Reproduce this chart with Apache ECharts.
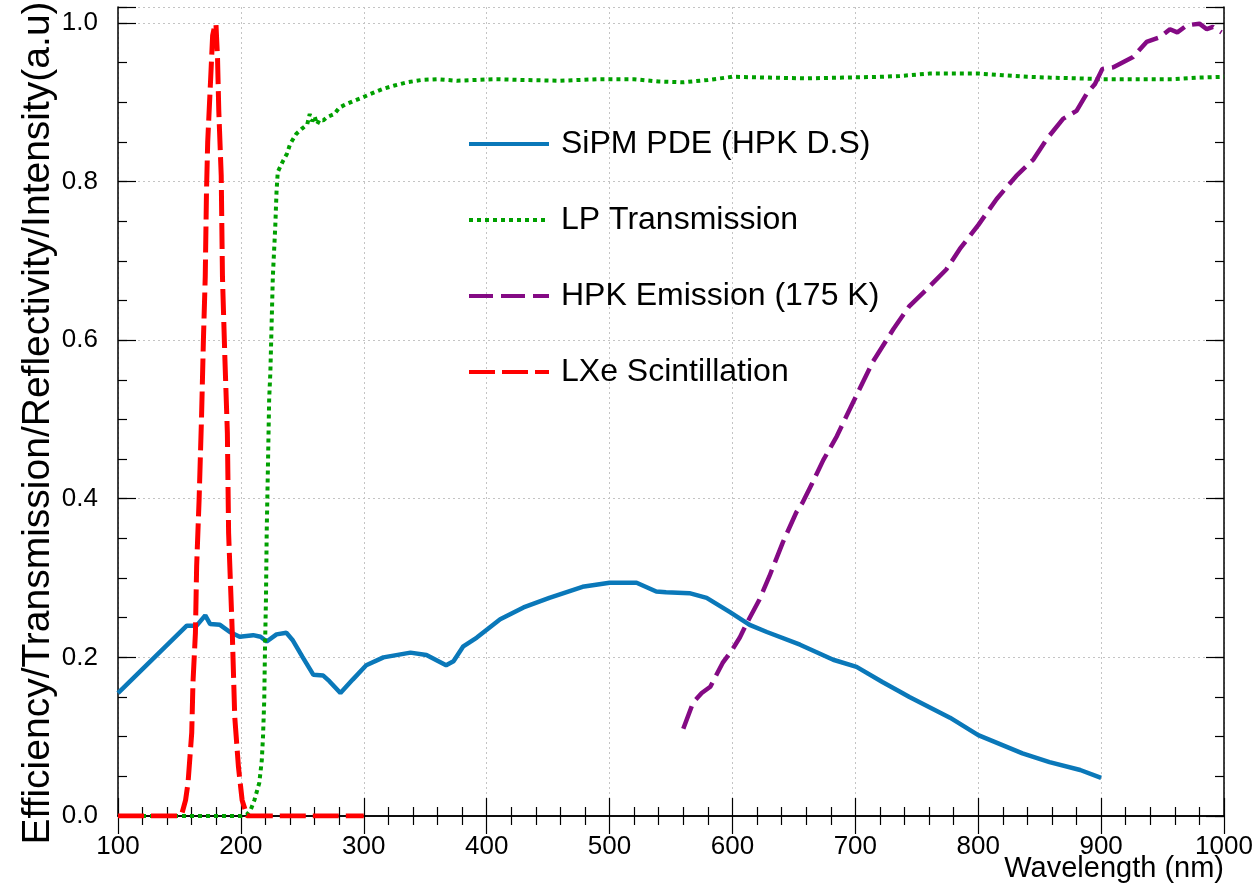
<!DOCTYPE html>
<html>
<head>
<meta charset="utf-8">
<script src="https://cdn.jsdelivr.net/npm/echarts@6/dist/echarts.min.js"></script>
<style>
html,body{margin:0;padding:0;background:#fff;}
#chart{width:1257px;height:889px;}
</style>
</head>
<body>
<div id="chart"></div>
<script>
const seriesNames = ['SiPM PDE (HPK D.S)', 'LP Transmission', 'HPK Emission (175 K)', 'LXe Scintillation'];
const xTitle = 'Wavelength (nm)';
const yTitle = 'Efficiency/Transmission/Reflectivity/Intensity(a.u)';

const sipmPDE = [[100,0.155],[156,0.24],[164,0.24],[171,0.253],[175,0.242],[183,0.241],[191,0.232],[199,0.226],[210,0.228],[216,0.226],[221,0.22],[229,0.229],[237,0.231],[242,0.222],[250,0.201],[259,0.178],[267,0.177],[272,0.17],[281,0.155],[291,0.172],[302,0.19],[316,0.2],[338,0.206],[351,0.203],[367,0.19],[373,0.195],[381,0.214],[392,0.225],[411,0.248],[430,0.263],[451,0.275],[478,0.289],[500,0.294],[522,0.294],[538,0.283],[546,0.282],[565,0.281],[579,0.275],[598,0.257],[614,0.241],[628,0.232],[655,0.216],[682,0.197],[701,0.188],[722,0.169],[736,0.157],[744,0.15],[777,0.124],[800,0.102],[836,0.079],[858,0.068],[883,0.058],[900,0.048]];

const lpTransmission = [[100,0],[150,0],[200,0],[205,0.002],[208,0.008],[211,0.02],[215,0.042],[217,0.07],[218,0.1],[219,0.146],[219.6,0.21],[220.4,0.273],[221,0.357],[222,0.44],[223,0.525],[224,0.56],[225,0.62],[226,0.68],[228,0.744],[229,0.787],[230,0.812],[234,0.825],[237.5,0.835],[240,0.847],[245,0.86],[250,0.867],[254,0.872],[256,0.885],[258,0.876],[260,0.882],[262,0.872],[264,0.878],[267,0.877],[270,0.881],[276,0.885],[280,0.893],[285,0.897],[291,0.901],[299,0.906],[308,0.912],[316,0.917],[325,0.921],[335,0.925],[347,0.928],[360,0.929],[376,0.927],[390,0.928],[408,0.929],[430,0.928],[460,0.927],[490,0.929],[520,0.929],[540,0.926],[560,0.925],[580,0.928],[600,0.932],[630,0.931],[660,0.93],[690,0.931],[720,0.932],[736,0.933],[760,0.936],[780,0.936],[801,0.936],[820,0.934],[840,0.932],[858,0.931],[880,0.93],[900,0.929],[930,0.929],[960,0.929],[980,0.931],[1000,0.932]];

const hpkEmission = [[560,0.11],[568,0.143],[575,0.155],[582,0.163],[592,0.193],[600,0.21],[606,0.225],[612,0.244],[622,0.273],[630,0.302],[641,0.345],[652,0.383],[657,0.395],[665,0.42],[674,0.449],[685,0.479],[698,0.521],[714,0.572],[731,0.614],[744,0.643],[758,0.664],[774,0.689],[785,0.715],[800,0.745],[815,0.778],[831,0.807],[845,0.828],[856,0.854],[869,0.879],[880,0.889],[888,0.91],[895,0.923],[901,0.942],[910,0.944],[926,0.957],[937,0.976],[948,0.982],[956,0.992],[962,0.988],[970,0.997],[980,0.999],[986,0.992],[991,0.995],[998,0.988]];

const lxeScintillation = [[100,0],[150,0],[152,0.003],[155,0.02],[157,0.042],[160,0.105],[161,0.168],[163,0.231],[164,0.315],[166,0.399],[168,0.504],[169.5,0.6],[171,0.68],[172,0.787],[173,0.85],[175.5,0.933],[177,0.984],[178.5,0.995],[179.7,0.999],[181,0.955],[182,0.89],[184,0.807],[185,0.68],[187,0.576],[189,0.483],[190,0.357],[193,0.231],[195,0.125],[198,0.062],[201,0.02],[205,0],[300,0]];

const FONT = '"Liberation Sans", Arial, Helvetica, sans-serif';
const chart = echarts.init(document.getElementById('chart'), null, {renderer: 'canvas'});

const frameLine = {show: true, lineStyle: {color: '#000', width: 1.5}};
const dotted = {show: true, lineStyle: {color: '#c4c4c4', type: [2, 3], width: 1}};

function isMajorY(v) { return Math.abs(v * 5 - Math.round(v * 5)) < 1e-6; }

const option = {
  animation: false,
  backgroundColor: '#fff',
  grid: {left: 118, right: 33, top: 7, bottom: 73, containLabel: false, outerBoundsMode: 'none'},
  legend: {
    orient: 'vertical',
    left: 462,
    top: 123,
    itemWidth: 80,
    itemHeight: 1,
    itemGap: 44,
    data: seriesNames,
    lineStyle: {width: 4},
    itemStyle: {opacity: 0},
    textStyle: {fontFamily: FONT, fontSize: 32, color: '#000', lineHeight: 30, padding: [0, 0, 0, 7]}
  },
  graphic: [
    {type: 'text', x: 38, y: 423, rotation: Math.PI / 2,
      style: {text: yTitle, font: '39px ' + FONT, fill: '#000', textAlign: 'center', textVerticalAlign: 'middle'}},
    {type: 'text', x: 1224, y: 869,
      style: {text: xTitle, font: '29px ' + FONT, fill: '#000', textAlign: 'right', textVerticalAlign: 'middle'}}
  ],
  xAxis: [
    {
      type: 'value', position: 'bottom', min: 100, max: 1000, interval: 100,
      axisLine: frameLine,
      axisTick: {show: true, inside: true, length: 18, lineStyle: {color: '#000', width: 1.2}},
      minorTick: {show: true, splitNumber: 5, length: 9, lineStyle: {color: '#000', width: 1.2}},
      splitLine: dotted,
      axisLabel: {fontFamily: FONT, fontSize: 26, color: '#000', margin: 18, formatter: v => String(v)}
    },
    {
      type: 'value', position: 'top', min: 100, max: 1000, interval: 100,
      axisLine: frameLine,
      axisTick: {show: true, inside: true, length: 18, lineStyle: {color: '#000', width: 1.2}},
      minorTick: {show: true, splitNumber: 5, length: 9, lineStyle: {color: '#000', width: 1.2}},
      splitLine: {show: false},
      axisLabel: {show: false}
    }
  ],
  yAxis: [
    {
      type: 'value', position: 'left', min: 0, max: 1.02, interval: 0.2,
      axisLine: frameLine,
      axisTick: {show: true, inside: true, length: 18, lineStyle: {color: '#000', width: 1.2}},
      splitLine: dotted,
      axisLabel: {fontFamily: FONT, fontSize: 26, color: '#000', margin: 20,
        formatter: v => isMajorY(v) ? v.toFixed(1) : ''}
    },
    {
      type: 'value', position: 'right', min: 0, max: 1.02, interval: 0.2,
      axisLine: frameLine,
      axisTick: {show: true, inside: true, length: 18, lineStyle: {color: '#000', width: 1.2}},
      splitLine: {show: false},
      axisLabel: {show: false}
    },
    {
      type: 'value', position: 'left', min: 0, max: 1.02, interval: 0.05,
      axisLine: {show: false},
      axisTick: {show: true, inside: true, length: 9, lineStyle: {color: '#000', width: 1.2}},
      splitLine: {show: false},
      axisLabel: {show: false}
    },
    {
      type: 'value', position: 'right', min: 0, max: 1.02, interval: 0.05,
      axisLine: {show: false},
      axisTick: {show: true, inside: true, length: 9, lineStyle: {color: '#000', width: 1.2}},
      splitLine: {show: false},
      axisLabel: {show: false}
    }
  ],
  series: [
    {name: seriesNames[0], type: 'line', data: sipmPDE, symbol: 'none', xAxisIndex: 0, yAxisIndex: 0,
      lineStyle: {color: '#0a78b9', width: 4.5, type: 'solid'}, itemStyle: {color: '#0a78b9'}},
    {name: seriesNames[1], type: 'line', data: lpTransmission, symbol: 'none', xAxisIndex: 0, yAxisIndex: 0,
      lineStyle: {color: '#00a000', width: 4, type: [4, 4]}, itemStyle: {color: '#00a000'}},
    {name: seriesNames[2], type: 'line', data: hpkEmission, symbol: 'none', xAxisIndex: 0, yAxisIndex: 0,
      lineStyle: {color: '#840a84', width: 4.5, type: [24, 8]}, itemStyle: {color: '#840a84'}},
    {name: seriesNames[3], type: 'line', data: lxeScintillation, symbol: 'none', xAxisIndex: 0, yAxisIndex: 0,
      lineStyle: {color: '#ff0000', width: 5, type: [26, 7]}, itemStyle: {color: '#ff0000'}}
  ]
};
chart.setOption(option);
</script>
</body>
</html>
